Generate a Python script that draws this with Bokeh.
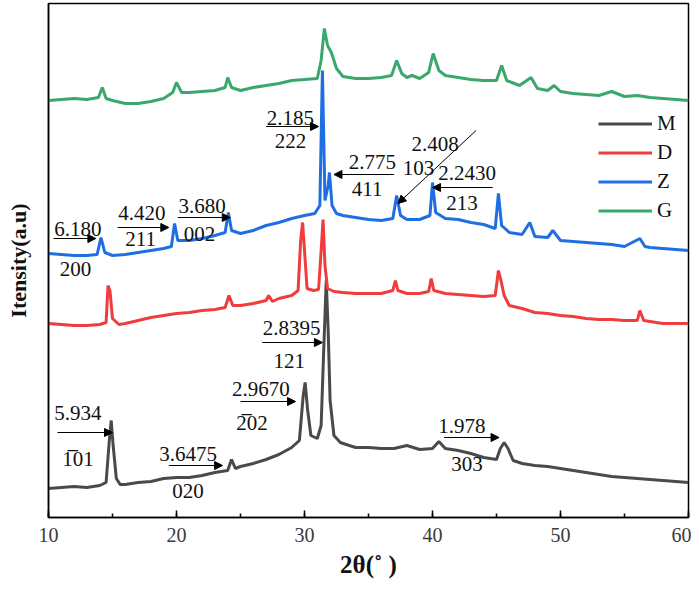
from bokeh.plotting import figure
from bokeh.models import Arrow, NormalHead, Label, SingleIntervalTicker, FixedTicker
from bokeh.embed import file_html
from bokeh.resources import INLINE

# ---- data (2theta in degrees, intensity in arbitrary units) ----
m_x = [10, 11, 12, 13, 14, 14.5, 14.75, 14.9, 15.05, 15.3, 15.6, 16, 17, 18, 19, 20, 21, 22, 23, 24, 24.3, 24.6,
       25, 26, 27, 28, 29, 29.6, 29.9, 30.05, 30.25, 30.5, 31.0, 31.3, 31.5, 31.7, 31.85, 32.0, 32.3, 32.8, 33.5,
       34, 35, 36, 37, 38, 39, 40, 40.5, 41, 42, 43, 44, 45, 45.3, 45.6, 45.9, 46.3, 47, 48, 49, 50, 51, 52,
       53, 54, 55, 56, 57, 58, 59, 60]
m_y = [29, 30, 31, 30, 32, 35, 77, 97, 72, 39, 33, 33, 35, 36, 39, 40, 40, 42, 45, 47, 58, 49,
       51, 54, 58, 63, 70, 77, 122, 135, 107, 82, 79, 92, 167, 237, 187, 117, 82, 75, 72,
       70, 70, 69, 69, 72, 68, 69, 76, 69, 67, 64, 60, 58, 69, 75, 69, 57, 54, 52, 51, 49, 47, 45,
       43, 41, 40, 39, 38, 37, 36, 35]

d_x = [10, 11, 12, 13, 14, 14.5, 14.65, 14.8, 15.0, 15.5, 16, 17, 18, 19, 20, 21, 22, 23, 23.8, 24.1, 24.4,
       25, 26, 27, 27.2, 27.5, 28, 29, 29.5, 29.7, 29.85, 30.0, 30.2, 30.7, 31.1, 31.3, 31.45, 31.6, 31.8,
       32.3, 33, 34, 35, 36, 36.9, 37.1, 37.3, 38, 39, 39.7, 39.9, 40.1, 41, 42, 43, 44, 44.9, 45.15,
       45.35, 45.6, 46, 47, 48, 49, 50, 51, 52, 53, 54, 55, 56, 56.2, 56.5, 57, 58, 59, 60]
d_y = [194, 193, 192, 192, 193, 195, 232, 227, 199, 193, 194, 197, 200, 202, 204, 205, 207, 208, 210, 222, 212,
       212, 214, 217, 222, 216, 219, 222, 227, 277, 295, 267, 229, 227, 228, 267, 298, 252, 229,
       226, 225, 224, 224, 224, 227, 237, 227, 224, 224, 226, 239, 227, 224, 223, 222, 221, 222, 247,
       237, 222, 212, 209, 205, 204, 202, 201, 199, 198, 198, 197, 197, 207, 197, 196, 194, 194, 194]

z_x = [10, 11, 12, 13, 13.8, 14.1, 14.4, 15, 16, 17, 18, 19, 19.6, 19.85, 20.1, 21, 22, 23, 23.8, 24.05, 24.3,
       25, 26, 27, 28, 29, 30, 30.8, 31.2, 31.4, 31.6, 31.85, 31.95, 32.15, 32.5, 33, 34, 35, 36, 36.9,
       37.2, 37.5, 38, 39, 39.8, 40.0, 40.25, 41, 42, 43, 44, 44.9, 45.15, 45.4, 46, 47, 47.6, 48, 49, 49.4,
       50, 51, 52, 53, 54, 55, 56.2, 56.6, 57, 58, 59, 60]
z_y = [264, 263, 262, 262, 263, 280, 265, 262, 263, 265, 267, 269, 271, 294, 277, 277, 279, 282, 285, 305, 287,
       284, 287, 292, 295, 299, 302, 304, 312, 447, 317, 332, 345, 312, 304, 302, 300, 298, 297, 299,
       322, 302, 298, 298, 302, 335, 305, 299, 298, 295, 293, 289, 324, 292, 285, 283, 295, 281, 280, 287,
       277, 276, 275, 274, 273, 271, 279, 271, 270, 269, 268, 267]

g_x = [10, 11, 12, 13, 13.9, 14.2, 14.5, 15, 16, 17, 18, 19, 19.7, 20.0, 20.4, 21, 22, 23, 23.8, 24.0, 24.3,
       25, 26, 27, 28, 29, 30, 31.0, 31.3, 31.55, 31.8, 32.1, 32.5, 33, 34, 35, 36, 36.8, 37.2, 37.6, 38,
       38.4, 39, 39.7, 40.05, 40.5, 41, 42, 43, 44, 45, 45.4, 45.8, 46.2, 46.8, 47.7, 48.2, 49, 49.5, 50,
       51, 52, 53, 54, 55, 56, 57, 58, 59, 60]
g_y = [417, 418, 419, 418, 420, 430, 419, 417, 414, 414, 416, 419, 425, 435, 425, 425, 426, 427, 430, 440, 430,
       427, 430, 432, 434, 437, 438, 439, 457, 489, 472, 465, 449, 441, 439, 439, 440, 442, 457, 444, 440,
       442, 439, 445, 464, 447, 442, 440, 438, 437, 437, 452, 437, 435, 432, 440, 429, 427, 432, 426,
       424, 423, 422, 426, 421, 422, 420, 419, 418, 417]

series_names = ["M", "D", "Z", "G"]
series_colors = ["#4a4a4a", "#f03c3c", "#1f6fe3", "#3aa86c"]

# annotations: (text, 2theta, intensity)
ann_texts = [
    ("2.185", 28.9, 400), ("222", 28.9, 377),
    ("2.775", 35.3, 356), ("411", 34.9, 329),
    ("2.408", 40.2, 374), ("103", 38.9, 350),
    ("2.2430", 42.7, 345), ("213", 42.3, 315),
    ("6.180", 12.3, 289), ("200", 12.1, 249),
    ("4.420", 17.3, 305), ("211", 17.2, 279),
    ("3.680", 22.0, 312), ("002", 21.8, 284),
    ("2.8395", 29.0, 190), ("121", 28.8, 157),
    ("2.9670", 26.6, 129), ("2\u030502", 25.9, 95),
    ("5.934", 12.3, 105), ("1\u030501", 12.3, 59),
    ("3.6475", 20.9, 64), ("020", 20.9, 27),
    ("1.978", 42.3, 92), ("303", 42.7, 54),
]
# arrows: (x_start, y_start, x_end, y_end)
ann_arrows = [
    (27.0, 391, 31.1, 391),
    (37.0, 343, 32.3, 343),
    (43.4, 387, 37.3, 314),
    (44.7, 330, 40.0, 330),
    (10.4, 279, 13.7, 279),
    (15.4, 290, 19.4, 290),
    (20.1, 300, 24.2, 300),
    (26.7, 175, 31.4, 175),
    (25.0, 116, 29.3, 116),
    (10.7, 85, 15.0, 85),
    (19.4, 52, 23.6, 52),
    (40.9, 80, 45.2, 80),
]

SERIF = "Liberation Serif"

p = figure(width=691, height=586, x_range=(10, 60), y_range=(0, 514),
           output_backend="svg", toolbar_location=None,
           min_border_left=48, min_border_right=3, min_border_top=3, min_border_bottom=69)

for name, col, xs, ys in zip(series_names, series_colors, [m_x, d_x, z_x, g_x], [m_y, d_y, z_y, g_y]):
    p.line(xs, ys, color=col, line_width=3, legend_label=name)

for t, x, y in ann_texts:
    p.add_layout(Label(x=x, y=y, text=t, text_align="center", text_baseline="middle",
                       text_font=SERIF, text_font_size="21px", text_color="#111111"))

for xs, ys, xe, ye in ann_arrows:
    p.add_layout(Arrow(end=NormalHead(size=8, fill_color="black", line_color="black", line_width=1),
                       x_start=xs, y_start=ys, x_end=xe, y_end=ye,
                       line_color="black", line_width=1))

p.grid.visible = False
p.outline_line_color = "black"
p.outline_line_width = 1.5

xa = p.xaxis[0]
xa.ticker = SingleIntervalTicker(interval=10, num_minor_ticks=2)
xa.axis_line_color = "black"
xa.axis_line_width = 1.5
xa.major_tick_in = 7
xa.major_tick_out = 0
xa.minor_tick_in = 4
xa.minor_tick_out = 0
xa.major_tick_line_width = 1.5
xa.minor_tick_line_width = 1.5
xa.major_tick_line_color = "black"
xa.minor_tick_line_color = "black"
xa.major_label_text_font = SERIF
xa.major_label_text_font_size = "20px"
xa.major_label_text_color = "#3a3a3a"
xa.major_label_standoff = 10
xa.axis_label = "2θ(˚ )"
xa.axis_label_text_font = SERIF
xa.axis_label_text_font_style = "bold"
xa.axis_label_text_font_size = "25px"
xa.axis_label_text_color = "#111111"
xa.axis_label_standoff = 6

ya = p.yaxis[0]
ya.ticker = FixedTicker(ticks=[])
ya.axis_line_color = "black"
ya.axis_line_width = 1.5
ya.major_tick_line_color = None
ya.minor_tick_line_color = None
ya.major_tick_in = 0
ya.major_tick_out = 0
ya.minor_tick_in = 0
ya.minor_tick_out = 0
ya.major_label_standoff = 0
ya.axis_label = "Itensity(a.u)"
ya.axis_label_text_font = SERIF
ya.axis_label_text_font_style = "bold"
ya.axis_label_text_font_size = "22px"
ya.axis_label_text_color = "#111111"
ya.axis_label_standoff = 18

lg = p.legend[0]
lg.location = (550, 292)
lg.padding = 0
lg.margin = 0
lg.spacing = 0
lg.border_line_color = None
lg.background_fill_alpha = 0
lg.glyph_width = 54
lg.glyph_height = 29
lg.label_height = 29
lg.label_standoff = 5
lg.label_text_font = SERIF
lg.label_text_font_size = "21px"
lg.label_text_color = "#111111"

open("out.html", "w").write(file_html(p, INLINE))
